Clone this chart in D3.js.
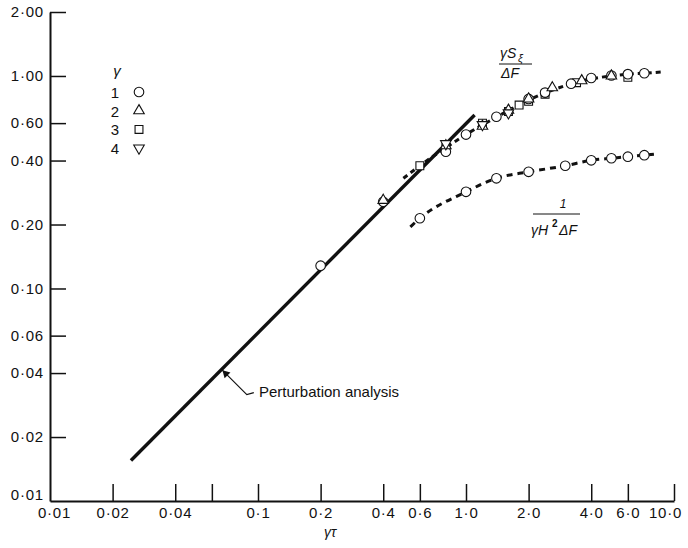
<!DOCTYPE html>
<html lang="en">
    <head>
        <meta charset="utf-8">
        <title>Log-log chart</title>
        <script src="https://d3js.org/d3.v7.min.js"></script>
        <style>
            body{ margin: 0; background: #fff; }
            text{ font-family: "Liberation Sans", Arial, sans-serif; fill: #111; }
        </style>
    </head>
    <body>
        <script type="text/javascript">
        'use strict';

        //axis ticks
        var xTicks = [0.01, 0.02, 0.04, 0.06, 0.1, 0.2, 0.4, 0.6, 1.0, 2.0, 4.0, 6.0, 10.0];
        var xTickLabels = ["0·01", "0·02", "0·04", "", "0·1", "0·2", "0·4", "0·6", "1·0", "2·0", "4·0", "6·0", "10·0"];
        var yTicks = [0.01, 0.02, 0.04, 0.06, 0.1, 0.2, 0.4, 0.6, 1.0, 2.0];
        var yTickLabels = ["0·01", "0·02", "0·04", "0·06", "0·10", "0·20", "0·40", "0·60", "1·00", "2·00"];

        //perturbation analysis line (end points)
        var pertX = [0.0245, 1.1];
        var pertY = [0.0155, 0.655];

        //upper set: gamma S_xi / Delta F
        var circleX = [0.2, 0.4, 0.8, 1.0, 1.4, 2.0, 2.4, 3.2, 4.0, 5.0, 6.0, 7.2];
        var circleY = [0.128, 0.256, 0.44, 0.53, 0.643, 0.78, 0.835, 0.92, 0.978, 1.005, 1.02, 1.03];
        var triX = [0.4, 0.8, 1.2, 1.6, 2.0, 2.6, 3.6, 5.0];
        var triY = [0.26, 0.47, 0.58, 0.69, 0.78, 0.88, 0.95, 1.0];
        var squareX = [0.6, 0.8, 1.2, 1.6, 1.8, 2.0, 2.4, 3.4, 6.0];
        var squareY = [0.378, 0.46, 0.60, 0.68, 0.73, 0.76, 0.82, 0.93, 0.985];
        var invTriX = [0.8, 1.2, 1.6];
        var invTriY = [0.48, 0.59, 0.67];
        var upperCurveX = [0.5, 0.6, 0.8, 1.0, 1.4, 2.0, 3.0, 4.0, 5.0, 6.0, 7.2, 8.8];
        var upperCurveY = [0.33, 0.378, 0.46, 0.53, 0.64, 0.77, 0.90, 0.97, 1.0, 1.02, 1.03, 1.045];

        //lower set: 1 / gamma H^2 Delta F
        var lowerX = [0.6, 1.0, 1.4, 2.0, 3.0, 4.0, 5.0, 6.0, 7.2];
        var lowerY = [0.214, 0.285, 0.33, 0.354, 0.378, 0.401, 0.41, 0.417, 0.424];
        var lowerCurveX = [0.54, 0.6, 1.0, 1.4, 2.0, 3.0, 4.0, 5.0, 6.0, 7.2, 8.3];
        var lowerCurveY = [0.195, 0.214, 0.285, 0.33, 0.354, 0.378, 0.401, 0.41, 0.417, 0.424, 0.43];

        //legend
        var legendLabels = ["1", "2", "3", "4"];
        var legendShapes = ["circle", "tri", "square", "inv"];

        var w = 688;
        var h = 548;

        var xScale = d3.scaleLog().domain([0.01, 10]).range([50, 674]);
        var yScale = d3.scaleLog().domain([0.01, 2]).range([501, 12]);

        var svg = d3.select("body")
                    .append("svg")
                    .attr("width", w)
                    .attr("height", h);

        //axes
        var xAxis = d3.axisBottom(xScale)
            .tickValues(xTicks)
            .tickSize(-17)
            .tickSizeOuter(0)
            .tickPadding(6)
            .tickFormat(function(d, i){ return xTickLabels[i]; });
        var yAxis = d3.axisLeft(yScale)
            .tickValues(yTicks)
            .tickSize(-16)
            .tickSizeOuter(0)
            .tickPadding(6)
            .tickFormat(function(d, i){ return yTickLabels[i]; });

        var gx = svg.append("g")
            .attr("transform", "translate(0," + yScale(0.01) + ")")
            .call(xAxis);
        var gy = svg.append("g")
            .attr("transform", "translate(" + xScale(0.01) + ",0)")
            .call(yAxis);

        [gx, gy].forEach(function(g){
            g.select(".domain").attr("stroke", "#111").attr("stroke-width", 2);
            g.selectAll(".tick line").attr("stroke", "#111").attr("stroke-width", 1.5);
            g.selectAll(".tick text")
                .attr("font-size", "15px")
                .attr("letter-spacing", "0.8px")
                .attr("fill", "#111")
                .attr("font-family", "DejaVu Sans, sans-serif");
        });
        //corner labels: no tick mark at 0.01
        gx.selectAll(".tick").filter(function(d){ return d === 0.01; }).select("line").remove();
        gy.selectAll(".tick").filter(function(d){ return d === 0.01; }).select("line").remove();
        gy.selectAll(".tick").filter(function(d){ return d === 0.01; }).select("text").attr("dy", "-0.1em");
        gx.selectAll(".tick").filter(function(d){ return d === 0.01; }).select("text").attr("dx", "4");
        gx.selectAll(".tick").filter(function(d){ return d === 10; }).select("text").attr("dx", "-9");

        svg.append("text")
            .attr("x", 330)
            .attr("y", 537)
            .attr("text-anchor", "middle")
            .attr("font-size", "14px")
            .attr("font-style", "italic")
            .text("γτ");

        //perturbation line
        var lineLog = d3.line()
            .x(function(d){ return xScale(d[0]); })
            .y(function(d){ return yScale(d[1]); });
        svg.append("path")
            .datum(d3.zip(pertX, pertY))
            .attr("d", lineLog)
            .attr("fill", "none")
            .attr("stroke", "#111")
            .attr("stroke-width", 3.4);

        //dashed curves
        var curve = d3.line()
            .x(function(d){ return xScale(d[0]); })
            .y(function(d){ return yScale(d[1]); })
            .curve(d3.curveMonotoneX);
        svg.append("path")
            .datum(d3.zip(upperCurveX, upperCurveY))
            .attr("d", curve)
            .attr("fill", "none")
            .attr("stroke", "#111")
            .attr("stroke-width", 3)
            .attr("stroke-dasharray", "5,4");
        svg.append("path")
            .datum(d3.zip(lowerCurveX, lowerCurveY))
            .attr("d", curve)
            .attr("fill", "none")
            .attr("stroke", "#111")
            .attr("stroke-width", 3)
            .attr("stroke-dasharray", "6,5");

        //markers
        var sym = {
            circle: d3.symbol().type(d3.symbolCircle).size(72),
            tri: d3.symbol().type(d3.symbolTriangle).size(48),
            square: d3.symbol().type(d3.symbolSquare).size(62),
            inv: d3.symbol().type(d3.symbolTriangle).size(48)
        };
        function drawMarkers(xs, ys, shape){
            svg.append("g").selectAll("path")
                .data(d3.zip(xs, ys))
                .enter()
                .append("path")
                .attr("d", sym[shape])
                .attr("transform", function(d){
                    return "translate(" + xScale(d[0]) + "," + yScale(d[1]) + ")" + (shape === "inv" ? " rotate(180)" : "");
                })
                .attr("fill", "#fff")
                .attr("stroke", "#111")
                .attr("stroke-width", 1.1);
        }
        drawMarkers(lowerX, lowerY, "circle");
        drawMarkers(squareX, squareY, "square");
        drawMarkers(circleX, circleY, "circle");
        drawMarkers(triX, triY, "tri");
        drawMarkers(invTriX, invTriY, "inv");

        //legend
        svg.append("text")
            .attr("x", 117).attr("y", 76)
            .attr("text-anchor", "middle")
            .attr("font-size", "15px")
            .attr("font-style", "italic")
            .text("γ");
        var leg = svg.append("g").selectAll("g")
            .data(legendLabels)
            .enter()
            .append("g")
            .attr("transform", function(d, i){ return "translate(0," + (92 + i * 18.7) + ")"; });
        leg.append("text")
            .attr("x", 115).attr("y", 6)
            .attr("text-anchor", "middle")
            .attr("font-size", "15px")
            .attr("font-family", "DejaVu Sans, sans-serif")
            .text(function(d){ return d; });
        leg.append("path")
            .attr("d", function(d, i){ return sym[legendShapes[i]](); })
            .attr("transform", function(d, i){ return "translate(139,0)" + (legendShapes[i] === "inv" ? " rotate(180)" : ""); })
            .attr("fill", "#fff")
            .attr("stroke", "#111")
            .attr("stroke-width", 1.1);

        //series labels
        var lab1 = svg.append("g").attr("font-style", "italic");
        lab1.append("text").attr("x", 500).attr("y", 58).attr("font-size", "14px").text("γS");
        lab1.append("text").attr("x", 518).attr("y", 62).attr("font-size", "11px").text("ξ");
        lab1.append("line").attr("x1", 499).attr("x2", 532).attr("y1", 64).attr("y2", 64)
            .attr("stroke", "#111").attr("stroke-width", 1);
        lab1.append("text").attr("x", 501).attr("y", 78).attr("font-size", "14px").text("ΔF");

        var lab2 = svg.append("g").attr("font-style", "italic");
        lab2.append("text").attr("x", 563).attr("y", 208).attr("text-anchor", "middle").attr("font-size", "12px").text("1");
        lab2.append("line").attr("x1", 533).attr("x2", 580).attr("y1", 214).attr("y2", 214)
            .attr("stroke", "#111").attr("stroke-width", 1);
        lab2.append("text").attr("x", 531).attr("y", 235).attr("font-size", "14px").text("γH");
        lab2.append("text").attr("x", 552).attr("y", 227).attr("font-size", "10px").attr("font-style", "normal").attr("font-weight", "bold").text("2");
        lab2.append("text").attr("x", 559).attr("y", 235).attr("font-size", "14px").text("ΔF");

        //perturbation annotation
        var tipX = xScale(0.067), tipY = yScale(0.0415);
        svg.append("path")
            .attr("d", "M" + tipX + "," + tipY + "L" + (tipX + 25) + "," + (tipY + 25) + "L" + (tipX + 32) + "," + (tipY + 23))
            .attr("fill", "none")
            .attr("stroke", "#111")
            .attr("stroke-width", 1.2);
        svg.append("path")
            .attr("d", d3.symbol().type(d3.symbolTriangle).size(30)())
            .attr("transform", "translate(" + (tipX + 4) + "," + (tipY + 4) + ") rotate(-45)")
            .attr("fill", "#111");
        svg.append("text")
            .attr("x", 259)
            .attr("y", 397)
            .attr("font-size", "15px")
            .text("Perturbation analysis");

        </script>
    </body>
</html>
